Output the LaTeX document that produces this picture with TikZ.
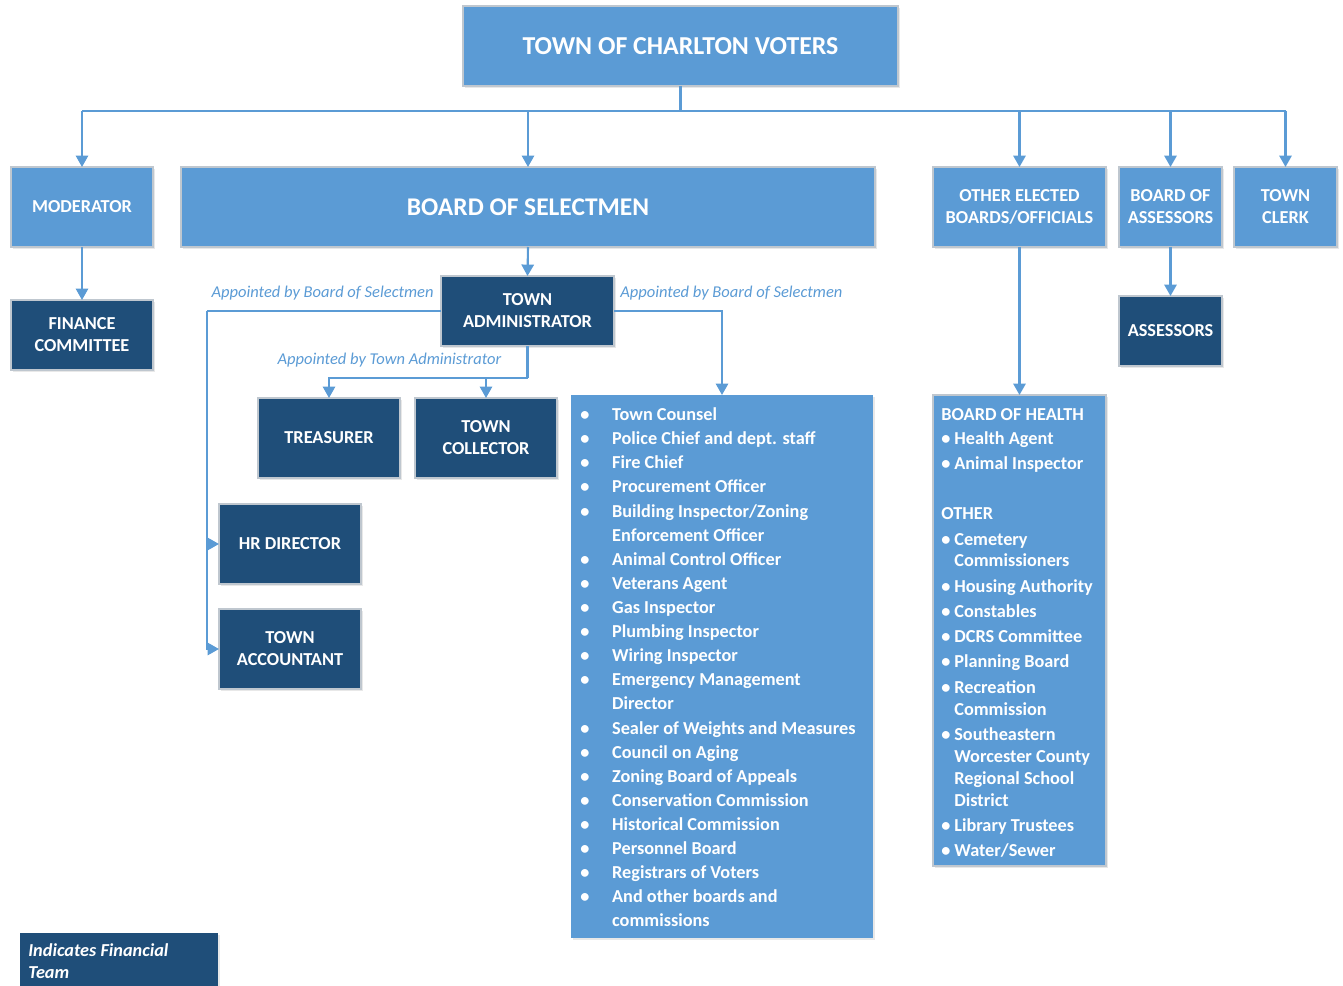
\documentclass[tikz,border=0pt]{standalone}
\usepackage{fontspec}
\setmainfont{Carlito}
\usetikzlibrary{arrows.meta,shadows}

\newlength{\du}
\setlength{\du}{0.02cm}

\definecolor{lightblue}{rgb}{0.356863, 0.607843, 0.835294}
\definecolor{darkblue}{rgb}{0.121569, 0.305882, 0.474510}
\definecolor{edgegrey}{rgb}{0.749020, 0.780392, 0.811765}

\newcommand{\selitem}[1]{\makebox[18.1pt][l]{\textbullet}#1}
\newcommand{\selcont}[1]{\hspace*{18.1pt}#1}
\newcommand{\hlthitem}[1]{\makebox[7.4pt][l]{\textbullet}#1}
\newcommand{\hlthcont}[1]{\hspace*{7.4pt}#1}

\tikzset{
  box/.style={draw=edgegrey, line width=0.8pt, inner sep=0pt, outer sep=0pt,
    text=white, align=center, font=\bfseries\fontsize{10.4}{12.6}\selectfont,
    drop shadow={shadow xshift=1.2pt, shadow yshift=-1.2pt, opacity=0.18}},
  lightbox/.style={box, fill=lightblue},
  darkbox/.style={box, fill=darkblue},
  conn/.style={draw=lightblue, line width=1.2pt},
  arr/.style={conn, -{Triangle[length=6.5pt,width=7pt]}},
  note/.style={text=lightblue, inner sep=0pt, font=\itshape\fontsize{9.4}{11}\selectfont},
  listtext/.style={anchor=north west, inner sep=0pt, text=white, align=left},
}

\begin{document}
\begin{tikzpicture}
\pgftransformxscale{1.000000}
\pgftransformyscale{-1.000000}
\useasboundingbox (0\du,0\du) rectangle (1343\du,986\du);

% top level
\node[lightbox, minimum width=435\du, minimum height=80\du, font=\bfseries\fontsize{14.7}{17}\selectfont] (voters) at (680.5\du,46\du) {TOWN OF CHARLTON VOTERS};
\coordinate (bus) at (681\du,111\du);

% elected row
\node[lightbox, minimum width=142\du, minimum height=80\du] (moderator) at (82\du,207\du) {MODERATOR};
\node[lightbox, minimum width=694\du, minimum height=80\du, font=\bfseries\fontsize{14.5}{17}\selectfont] (selectmen) at (528\du,207\du) {BOARD OF SELECTMEN};
\node[lightbox, minimum width=173\du, minimum height=80\du] (elected) at (1019.5\du,207\du) {OTHER ELECTED\\BOARDS/OFFICIALS};
\node[lightbox, minimum width=103\du, minimum height=80\du] (boardassess) at (1170.5\du,207\du) {BOARD OF\\ASSESSORS};
\node[lightbox, minimum width=103\du, minimum height=80\du] (clerk) at (1285.5\du,207\du) {TOWN\\CLERK};

% financial team
\node[darkbox, minimum width=142\du, minimum height=70\du] (finance) at (82\du,335\du) {FINANCE\\COMMITTEE};
\node[darkbox, minimum width=173\du, minimum height=70\du] (admin) at (527.5\du,311\du) {TOWN\\ADMINISTRATOR};
\node[darkbox, minimum width=103\du, minimum height=70\du] (assessors) at (1170.5\du,331\du) {ASSESSORS};
\node[darkbox, minimum width=142\du, minimum height=80\du] (treasurer) at (329\du,438\du) {TREASURER};
\node[darkbox, minimum width=142\du, minimum height=80\du] (collector) at (486\du,438\du) {TOWN\\COLLECTOR};
\node[darkbox, minimum width=142\du, minimum height=80\du] (hr) at (290\du,544\du) {HR DIRECTOR};
\node[darkbox, minimum width=142\du, minimum height=80\du] (accountant) at (290\du,649\du) {TOWN\\ACCOUNTANT};

% appointed boards
\node[lightbox, draw=none, minimum width=302\du, minimum height=543\du] (listbox) at (722\du,666.5\du) {};
\node[listtext, font=\bfseries\fontsize{10.4}{13.72}\selectfont] (seltext) at (580\du,407.5\du) {%
\selitem{Town Counsel}\\
\selitem{Police Chief and dept. staff}\\
\selitem{Fire Chief}\\
\selitem{Procurement Officer}\\
\selitem{Building Inspector/Zoning}\\
\selcont{Enforcement Officer}\\
\selitem{Animal Control Officer}\\
\selitem{Veterans Agent}\\
\selitem{Gas Inspector}\\
\selitem{Plumbing Inspector}\\
\selitem{Wiring Inspector}\\
\selitem{Emergency Management}\\
\selcont{Director}\\
\selitem{Sealer of Weights and Measures}\\
\selitem{Council on Aging}\\
\selitem{Zoning Board of Appeals}\\
\selitem{Conservation Commission}\\
\selitem{Historical Commission}\\
\selitem{Personnel Board}\\
\selitem{Registrars of Voters}\\
\selitem{And other boards and}\\
\selcont{commissions}};

\node[lightbox, minimum width=173\du, minimum height=471\du] (health) at (1019.5\du,630.5\du) {};
\node[listtext, font=\bfseries\fontsize{10.4}{12.47}\selectfont] (hlthtext) at (941\du,408\du) {%
BOARD OF HEALTH\\[1.1pt]
\hlthitem{Health Agent}\\[1.9pt]
\hlthitem{Animal Inspector}\\[15.9pt]
OTHER\\[2.2pt]
\hlthitem{Cemetery}\\
\hlthcont{Commissioners}\\[1.9pt]
\hlthitem{Housing Authority}\\[1.9pt]
\hlthitem{Constables}\\[1.9pt]
\hlthitem{DCRS Committee}\\[1.9pt]
\hlthitem{Planning Board}\\[1.9pt]
\hlthitem{Recreation}\\
\hlthcont{Commission}\\[1.9pt]
\hlthitem{Southeastern}\\
\hlthcont{Worcester County}\\
\hlthcont{Regional School}\\
\hlthcont{District}\\[1.9pt]
\hlthitem{Library Trustees}\\[1.9pt]
\hlthitem{Water/Sewer}};

% legend
\node[darkbox, draw=none, drop shadow={opacity=0}, minimum width=198\du, minimum height=53\du] (legend) at (119\du,959.5\du) {};
\node[listtext, font=\bfseries\itshape\fontsize{10.4}{12.47}\selectfont] (legendtext) at (28\du,943\du) {Indicates Financial\\Team};

% labels
\node[note, anchor=base east] (lblleft) at (434\du,298\du) {Appointed by Board of Selectmen};
\node[note, anchor=base west] (lblright) at (620\du,298\du) {Appointed by Board of Selectmen};
\node[note, anchor=base] (lbladmin) at (389.5\du,365\du) {Appointed by Town Administrator};

% connectors
\draw[conn] (voters.south) -- (voters.south |- bus);
\draw[conn] (moderator.north |- bus) -- (clerk.north |- bus);
\foreach \n in {moderator,selectmen,elected,boardassess,clerk}
  \draw[arr] (\n.north |- bus) -- (\n.north);
\draw[arr] (moderator.south) -- (finance.north);
\draw[arr] (selectmen.south) -- (admin.north);
\draw[arr] (boardassess.south) -- (assessors.north);
\draw[arr] (elected.south) -- (health.north);
\coordinate (leftrail) at (207\du,311\du);
\draw[conn] (admin.west) -- (leftrail);
\draw[arr] (leftrail) |- (hr.west);
\draw[arr] (leftrail) |- (accountant.west);
\draw[arr] (admin.east) -| (listbox.north);
\coordinate (split) at (527.5\du,378\du);
\draw[conn] (admin.south) -- (split);
\draw[arr] (split) -| (treasurer.north);
\draw[arr] (split) -| (collector.north);
\end{tikzpicture}
\end{document}
